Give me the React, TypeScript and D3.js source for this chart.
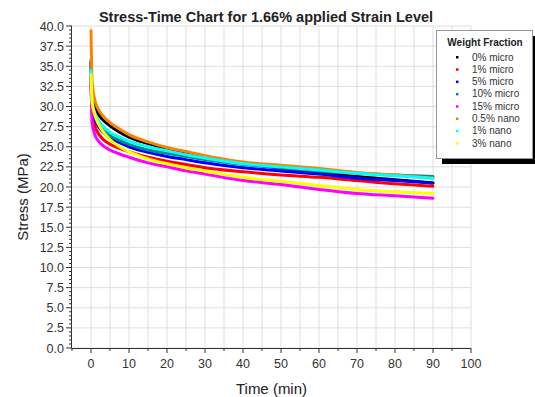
import React from 'react'
import * as d3 from 'd3'

const WIDTH = 535
const HEIGHT = 397
const FONT = '"Liberation Sans", Arial, sans-serif'

// time points (min) shared by every series
const times = [0, 0.3, 1, 2, 3, 5, 7.5, 10, 15, 20, 25, 30, 40, 50, 60, 70, 80, 90]

// stress (MPa)
const micro0 = [35.5, 31.5, 30.0, 29.0, 28.4, 27.6, 26.8, 26.2, 25.4, 24.8, 24.3, 23.8, 23.0, 22.3, 21.8, 21.3, 20.9, 20.5]
const micro1 = [33.5, 29.0, 27.6, 26.6, 26.0, 25.3, 24.8, 24.4, 23.7, 23.2, 22.8, 22.4, 21.9, 21.5, 21.2, 20.8, 20.4, 20.1]
const micro5 = [34.0, 30.0, 28.5, 27.5, 26.9, 26.1, 25.5, 25.0, 24.3, 23.8, 23.4, 23.0, 22.4, 22.0, 21.6, 21.1, 20.8, 20.5]
const micro10 = [35.8, 30.2, 28.8, 27.8, 27.2, 26.4, 25.8, 25.3, 24.6, 24.2, 23.8, 23.4, 22.8, 22.4, 22.0, 21.7, 21.5, 21.3]
const micro15 = [32.8, 28.0, 26.5, 25.7, 25.2, 24.6, 24.1, 23.7, 23.0, 22.5, 22.0, 21.6, 20.8, 20.3, 19.7, 19.2, 18.9, 18.6]
const nano05 = [39.4, 33.0, 30.8, 29.6, 28.9, 28.0, 27.2, 26.5, 25.6, 24.9, 24.4, 23.9, 23.1, 22.7, 22.3, 21.8, 21.5, 21.1]
const nano1 = [34.5, 30.5, 29.2, 28.2, 27.6, 26.8, 26.2, 25.7, 25.0, 24.5, 24.0, 23.6, 22.9, 22.5, 22.1, 21.7, 21.4, 21.1]
const nano3 = [34.0, 30.5, 29.0, 27.8, 27.0, 25.9, 25.0, 24.4, 23.5, 22.9, 22.4, 22.0, 21.2, 20.7, 20.2, 19.7, 19.4, 19.2]

const seriesNames = ['0% micro', '1% micro', '5% micro', '10% micro', '15% micro', '0.5% nano', '1% nano', '3% nano']
const seriesValues = [micro0, micro1, micro5, micro10, micro15, nano05, nano1, nano3]
const seriesColors = ['#000000', '#ff0000', '#0000ff', '#008b8b', '#ff00ff', '#ff8000', '#00ffff', '#ffff00']

const xTicks = [0, 10, 20, 30, 40, 50, 60, 70, 80, 90, 100]
const yTicks = [0, 2.5, 5, 7.5, 10, 12.5, 15, 17.5, 20, 22.5, 25, 27.5, 30, 32.5, 35, 37.5, 40]

const margin = { left: 72, right: 64, top: 26, bottom: 49 }

export default function App() {
  const x = d3.scaleLinear()
    .domain([-5, 100])
    .range([margin.left, WIDTH - margin.right])
  const y = d3.scaleLinear()
    .domain([0, 40])
    .range([HEIGHT - margin.bottom, margin.top])

  const line = d3.line<[number, number]>()
    .x((d) => x(d[0]))
    .y((d) => y(d[1]))
    .curve(d3.curveMonotoneX)

  const xGrid = d3.range(0, 101, 5)
  const xMinor = d3.range(-5, 101, 5)
  const yMinor = d3.range(0, 40.01, 0.5)
  const x0 = x.range()[0]
  const x1 = x.range()[1]
  const y0 = y.range()[0]
  const y1 = y.range()[1]

  // legend box
  const lg = { x: 436, y: 30, w: 96, h: 128, rowH: 12.3 }

  return (
    <svg width={WIDTH} height={HEIGHT} style={{ position: 'absolute', left: 0, top: 0, background: '#fff' }}
      fontFamily={FONT}>
      {/* grid */}
      <g stroke="#dedede" strokeWidth={1}>
        {xGrid.map((v) => <line key={'gx' + v} x1={x(v)} x2={x(v)} y1={y0} y2={y1} />)}
        {yTicks.map((v) => <line key={'gy' + v} x1={x0} x2={x1} y1={y(v)} y2={y(v)} />)}
      </g>

      {/* curves */}
      <g fill="none" strokeWidth={3} strokeLinejoin="round" strokeLinecap="round">
        {seriesValues.map((vals, i) => (
          <path key={seriesNames[i]} stroke={seriesColors[i]}
            d={line(times.map((t, j) => [t, vals[j]] as [number, number])) || ''} />
        ))}
      </g>

      {/* x axis */}
      <g stroke="#333" strokeWidth={1}>
        <line x1={x0} x2={x1} y1={y0 + 0.5} y2={y0 + 0.5} />
        {xMinor.map((v) => (
          <line key={'tx' + v} x1={x(v)} x2={x(v)} y1={y0} y2={y0 + (v % 10 === 0 ? 5 : 3)} />
        ))}
      </g>
      <g fontSize={12.5} fill="#333" textAnchor="middle">
        {xTicks.map((v) => <text key={'lx' + v} x={x(v)} y={y0 + 20}>{v}</text>)}
      </g>
      <text x={(x0 + x1) / 2} y={394} fontSize={15} fill="#222" textAnchor="middle">Time (min)</text>

      {/* y axis */}
      <g stroke="#333" strokeWidth={1}>
        <line x1={x0 - 0.5} x2={x0 - 0.5} y1={y0 + 0.5} y2={y1} />
        {yMinor.map((v) => {
          const major = Math.abs(v / 2.5 - Math.round(v / 2.5)) < 1e-6
          return <line key={'ty' + v} x1={x0 - (major ? 6 : 3)} x2={x0} y1={y(v)} y2={y(v)} />
        })}
      </g>
      <g fontSize={12.5} fill="#333" textAnchor="end">
        {yTicks.map((v) => <text key={'ly' + v} x={x0 - 8} y={y(v) + 4.5}>{v.toFixed(1)}</text>)}
      </g>
      <text transform="translate(28,197) rotate(-90)" fontSize={15} fill="#222"
        textAnchor="middle">Stress (MPa)</text>

      {/* title */}
      <text x={266} y={22} fontSize={14.5} fontWeight="bold" fill="#222" textAnchor="middle">
        Stress-Time Chart for 1.66% applied Strain Level
      </text>

      {/* legend */}
      <rect x={lg.x + 6} y={lg.y + 6} width={lg.w} height={lg.h} fill="#000" />
      <rect x={lg.x + 0.5} y={lg.y + 0.5} width={lg.w} height={lg.h} fill="#fff" stroke="#999" />
      <text x={lg.x + lg.w / 2 + 1} y={lg.y + 16} fontSize={10} fontWeight="bold" fill="#222"
        textAnchor="middle">Weight Fraction</text>
      {seriesNames.map((name, i) => {
        const cy = lg.y + 27 + i * lg.rowH
        return (
          <g key={'lg' + name}>
            <rect x={lg.x + 20} y={cy - 1} width={2.5} height={2.5} fill={seriesColors[i]} />
            <text x={lg.x + 36} y={cy + 3.5} fontSize={10} fill="#333">{name}</text>
          </g>
        )
      })}
    </svg>
  )
}
